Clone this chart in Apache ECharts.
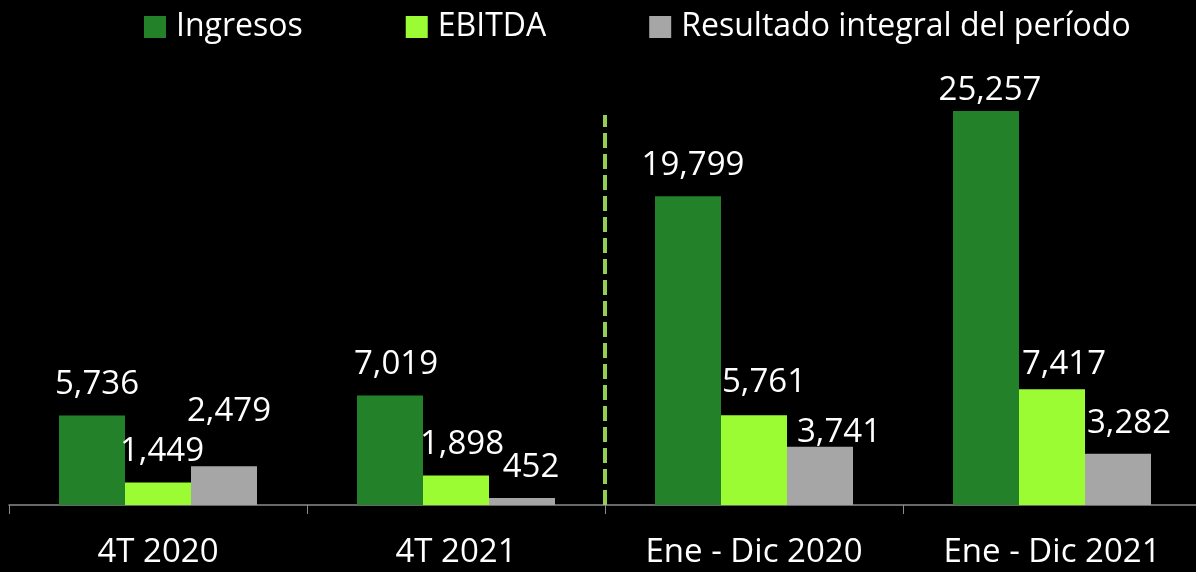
<!DOCTYPE html>
<html>
<head>
<meta charset="utf-8">
<script src="https://cdn.jsdelivr.net/npm/echarts@6/dist/echarts.min.js"></script>
<style>
  html, body { margin: 0; padding: 0; background: #000; overflow: hidden; }
  #chart { width: 1201px; height: 572px; }
</style>
</head>
<body>
<div id="chart"></div>
<script>
// categories and series
var categories = ['4T 2020', '4T 2021', 'Ene - Dic 2020', 'Ene - Dic 2021']
var ingresos = [5736, 7019, 19799, 25257]
var ebitda = [1449, 1898, 5761, 7417]
var resultado = [2479, 452, 3741, 3282]
var seriesNames = ['Ingresos', 'EBITDA', 'Resultado integral del período']
// separator between quarter and full-year groups (category boundary index)
var dividerAt = 2
var dividerTop = 25000

var font = 'Open Sans'
var colors = ['#23812A', '#9BFC34', '#A6A6A6']

// small tweaks so labels sit like the original
var labelShift = [
  [[5, 0], [6, 0], [5, 0], [4, 10]],
  [[4, 0], [6, 0], [10, -2], [12, 6]],
  [[5, -24], [9, 0], [19, 16], [11, 0]]
]

function makeBar (idx, values) {
  return {
    name: seriesNames[idx],
    type: 'bar',
    barWidth: 66,
    barGap: 0,
    itemStyle: { color: colors[idx] },
    label: {
      show: true,
      position: 'top',
      distance: 14,
      color: '#fff',
      fontFamily: font,
      fontSize: 33,
      formatter: function (p) { return p.value.toLocaleString('en-US') }
    },
    data: values.map(function (v, i) {
      return { value: v, label: { offset: labelShift[idx][i] } }
    })
  }
}

var chart = echarts.init(document.getElementById('chart'))
chart.setOption({
  backgroundColor: '#000',
  animation: false,
  legend: {
    left: 139,
    top: 6,
    itemWidth: 22,
    itemHeight: 22,
    itemGap: 103,
    icon: 'rect',
    data: seriesNames,
    textStyle: { color: '#fff', fontFamily: font, fontSize: 32, padding: [0, 0, 0, 5] }
  },
  grid: { left: 9, right: 0, top: 60, bottom: 67, containLabel: false },
  xAxis: [
    {
      type: 'category',
      data: categories,
      axisLine: { lineStyle: { color: '#8c8c8c', width: 1.5 } },
      axisTick: { show: true, length: 9, lineStyle: { color: '#8c8c8c' } },
      axisLabel: { color: '#fff', fontFamily: font, fontSize: 33, margin: 31 }
    },
    { type: 'value', min: 0, max: categories.length, show: false }
  ],
  yAxis: { type: 'value', min: 0, max: 28526, show: false, splitLine: { show: false } },
  series: [
    makeBar(0, ingresos),
    makeBar(1, ebitda),
    makeBar(2, resultado),
    {
      type: 'line',
      xAxisIndex: 1,
      symbol: 'none',
      silent: true,
      lineStyle: { color: '#92D050', width: 4, type: [15, 6] },
      data: [[dividerAt, 0], [dividerAt, dividerTop]]
    }
  ]
})
</script>
</body>
</html>
